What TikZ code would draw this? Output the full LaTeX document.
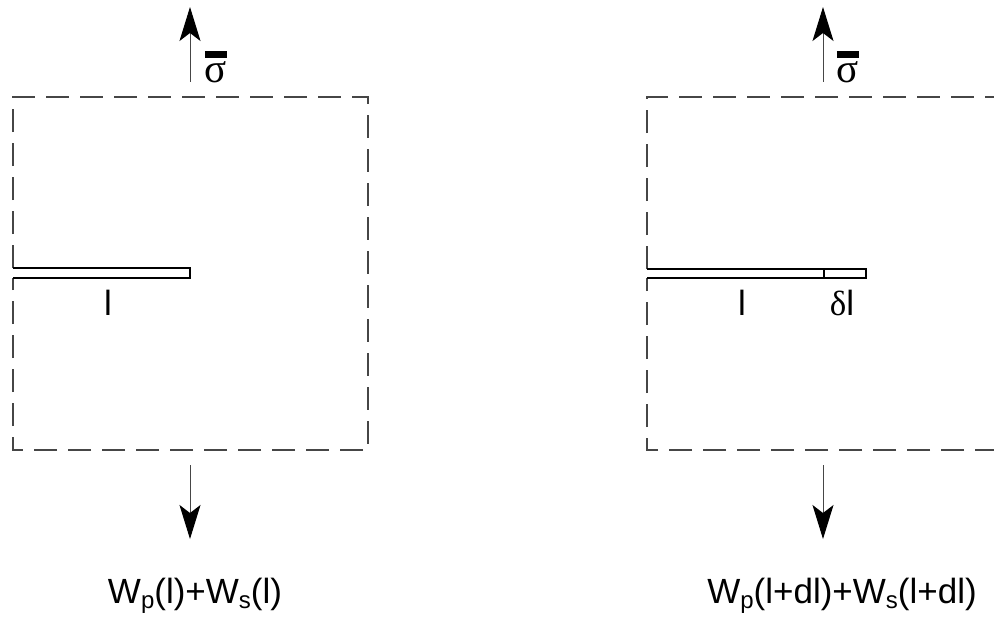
\documentclass[tikz,border=0pt]{standalone}
\usepackage{fontspec}
\setmainfont{Liberation Sans}
\newfontfamily\greekfont{Liberation Serif}
\usetikzlibrary{arrows.meta}
\definecolor{linegray}{RGB}{70,70,70}
\newcommand{\lowidx}[1]{\raisebox{-5pt}{\fontsize{24}{28}\selectfont #1}}

\begin{document}
\begin{tikzpicture}[x=1pt,y=-1pt,
  boundary/.style={linegray,line width=1.3pt,dash pattern=on 23pt off 11pt},
  crackline/.style={black,line width=1.3pt},
  load/.style={linegray,line width=1pt,-{Stealth[length=34pt,width=21pt,inset=8pt,color=black]}},
  lbl/.style={font=\fontsize{35}{40}\selectfont,inner sep=0pt,anchor=base},
  stress/.style={font=\fontsize{41}{46}\selectfont\greekfont,inner sep=0pt,anchor=base}]
\useasboundingbox (0,0) rectangle (994,618);

% left plate, crack of length l
\coordinate (cutL1) at (13,268);
\coordinate (cutL2) at (13,278);
\coordinate (tipL) at (190,268);
\draw[boundary] (cutL1) -- (13,97) -- (368,97) -- (368,450) -- (13,450) -- (cutL2);
\draw[crackline] (cutL1) -- (tipL) -- (190,278) -- (cutL2);
\node[lbl] (lenL) at (108,315) {l};

\coordinate (topL) at (190,82);
\coordinate (upL) at (190,7);
\coordinate (botL) at (190,465);
\coordinate (downL) at (190,539);
\draw[load] (topL) -- (upL);
\draw[load] (botL) -- (downL);
\node[stress] (sigL) at (216,82) {σ};
\draw[black,line width=6.5pt] ([yshift=6.5pt]sigL.north west) -- ([yshift=6.5pt]sigL.north east);
\node[lbl] (enL) at (195,603) {W\lowidx{p}(l)+W\lowidx{s}(l)};

% right plate, crack grown by dl
\coordinate (cutR1) at (647,269);
\coordinate (cutR2) at (647,278);
\coordinate (oldR) at (824,269);
\draw[boundary] (cutR1) -- (647,97) -- (1002,97) -- (1002,450) -- (647,450) -- (cutR2);
\draw[crackline] (cutR1) -- (866,269) -- (866,278) -- (cutR2);
\draw[crackline] (oldR) -- (824,278);
\node[lbl] (lenR) at (742,315) {l};
\node[lbl] (dlenR) at (842,315) {{\greekfont δ}l};

\coordinate (topR) at (823,82);
\coordinate (upR) at (823,7);
\coordinate (botR) at (823,465);
\coordinate (downR) at (823,539);
\draw[load] (topR) -- (upR);
\draw[load] (botR) -- (downR);
\node[stress] (sigR) at (848,82) {σ};
\draw[black,line width=6.5pt] ([yshift=6.5pt]sigR.north west) -- ([yshift=6.5pt]sigR.north east);
\node[lbl] (enR) at (842,603) {W\lowidx{p}(l+dl)+W\lowidx{s}(l+dl)};
\end{tikzpicture}
\end{document}
